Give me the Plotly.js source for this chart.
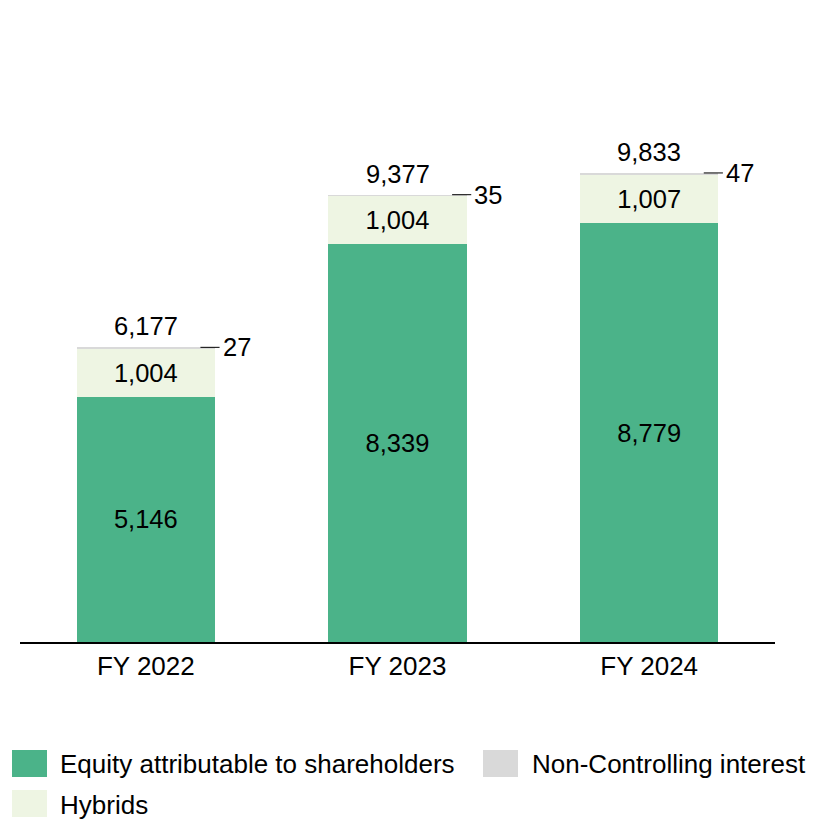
<!DOCTYPE html>
<html>
<head>
<meta charset="utf-8">
<script src="https://cdn.plot.ly/plotly-3.0.1.min.js"></script>
<style>html,body{margin:0;padding:0;background:#fff;}#chart{width:815px;height:822px;}</style>
</head>
<body>
<div id="chart"></div>
<script>
const categories = ["FY 2022", "FY 2023", "FY 2024"];
const equity = [5146, 8339, 8779];
const hybrids = [1004, 1004, 1007];
const nonControlling = [27, 35, 47];
const totals = [6177, 9377, 9833];

const seriesNames = ["Equity attributable to shareholders", "Hybrids", "Non-Controlling interest"];
const colors = { equity: "#4BB389", hybrids: "#EEF5E3", nci: "#D9D9D9" };
const FONT = "Liberation Sans, Arial, sans-serif";
const FS = 25.5;
const LFS = 26;

const xIdx = categories.map((c, i) => i);

const traces = [
  {
    type: "bar", name: seriesNames[0], x: xIdx, y: equity,
    marker: { color: colors.equity },
    texttemplate: "%{y:,}", textposition: "inside", insidetextanchor: "middle",
    textfont: { family: FONT, size: FS, color: "#000" }, constraintext: "none",
    showlegend: false, hoverinfo: "skip"
  },
  {
    type: "bar", name: seriesNames[1], x: xIdx, y: hybrids,
    marker: { color: colors.hybrids },
    texttemplate: "%{y:,}", textposition: "inside", insidetextanchor: "middle",
    textfont: { family: FONT, size: FS, color: "#000" }, constraintext: "none",
    showlegend: false, hoverinfo: "skip"
  },
  {
    type: "bar", name: seriesNames[2], x: xIdx, y: nonControlling,
    marker: { color: colors.nci },
    textposition: "none",
    showlegend: false, hoverinfo: "skip"
  }
];

const annotations = [];
const shapes = [];
xIdx.forEach((i) => {
  annotations.push({
    x: i, y: totals[i], xref: "x", yref: "y",
    text: totals[i].toLocaleString("en-US"),
    showarrow: false, xanchor: "center", yanchor: "middle", yshift: 21,
    font: { family: FONT, size: FS, color: "#000" }
  });
  shapes.push({
    type: "line", xref: "x", yref: "y",
    x0: i + 0.217, x1: i + 0.293, y0: totals[i], y1: totals[i],
    line: { color: "#000", width: 1 }
  });
  annotations.push({
    x: i + 0.293, y: totals[i], xref: "x", yref: "y",
    text: String(nonControlling[i]),
    showarrow: false, xanchor: "left", yanchor: "middle", xshift: 1,
    font: { family: FONT, size: FS, color: "#000" }
  });
});

const L = 20, T = 100, PW = 755, PH = 542;
const px = (p) => (p - L) / PW;
const py = (p) => (T + PH - p) / PH;
const legendItems = [
  { name: seriesNames[0], color: colors.equity, sx: 12, sy: 750, tx: 58, ty: 764 },
  { name: seriesNames[2], color: colors.nci, sx: 483, sy: 750, tx: 530, ty: 764 },
  { name: seriesNames[1], color: colors.hybrids, sx: 12, sy: 790, tx: 58, ty: 805 }
];
legendItems.forEach((it) => {
  shapes.push({
    type: "rect", xref: "paper", yref: "paper",
    x0: px(it.sx), x1: px(it.sx + 35), y0: py(it.sy), y1: py(it.sy + 27),
    fillcolor: it.color, line: { width: 0 }
  });
  annotations.push({
    x: px(it.tx), y: py(it.ty), xref: "paper", yref: "paper",
    text: it.name, showarrow: false, xanchor: "left", yanchor: "middle",
    font: { family: FONT, size: LFS, color: "#000" }
  });
});

const layout = {
  width: 815, height: 822,
  margin: { l: L, r: 40, t: T, b: 180 },
  paper_bgcolor: "#fff", plot_bgcolor: "#fff",
  barmode: "stack", bargap: 0.45,
  showlegend: false,
  font: { family: FONT, size: FS, color: "#000" },
  xaxis: {
    tickmode: "array", tickvals: xIdx, ticktext: categories,
    range: [-0.5, 2.5], showgrid: false, zeroline: false,
    showline: true, linecolor: "#000", linewidth: 2, ticks: "",
    tickfont: { family: FONT, size: 26, color: "#000" }, fixedrange: true
  },
  yaxis: {
    range: [0, 11362], visible: false, showgrid: false, zeroline: false, fixedrange: true
  },
  shapes: shapes,
  annotations: annotations
};

Plotly.newPlot("chart", traces, layout, { staticPlot: true, displayModeBar: false });
</script>
</body>
</html>
